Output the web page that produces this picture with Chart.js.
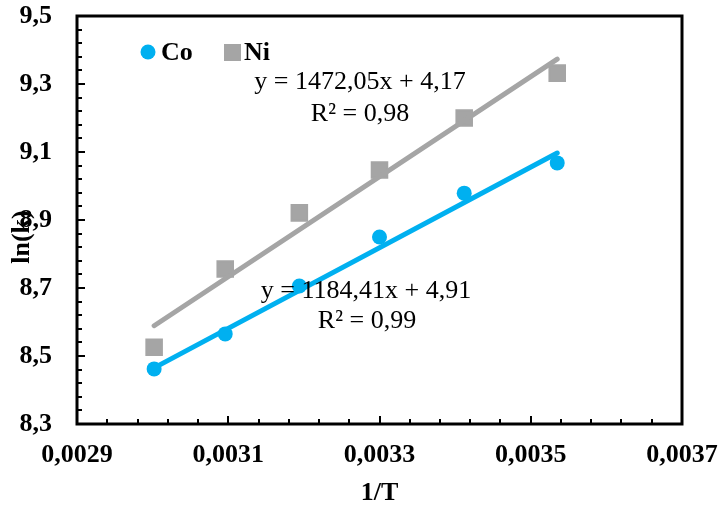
<!DOCTYPE html>
<html><head><meta charset="utf-8">
<script src="https://cdn.jsdelivr.net/npm/chart.js@4/dist/chart.umd.min.js"></script>
<style>html,body{margin:0;padding:0;background:#fff}#wrap{width:720px;height:508px;position:relative}</style>
</head><body><div id="wrap"><canvas id="c" width="720" height="508"></canvas></div>
<script>
// ---- data ----
const invT = [0.003002, 0.003096, 0.003194, 0.003300, 0.003412, 0.003535];
const lnkCo = [8.462, 8.565, 8.706, 8.850, 8.979, 9.068];
const lnkNi = [8.526, 8.756, 8.921, 9.047, 9.200, 9.332];
const trendX = [0.003002, 0.003535];
const trendCo = [8.465, 9.097];
const trendNi = [8.589, 9.373];
const seriesNames = ['Co', 'Ni'];
const xTicks = [0.0029, 0.0031, 0.0033, 0.0035, 0.0037];
const xTickLabels = ['0,0029', '0,0031', '0,0033', '0,0035', '0,0037'];
const yTicks = [8.3, 8.5, 8.7, 8.9, 9.1, 9.3, 9.5];
const yTickLabels = ['8,3', '8,5', '8,7', '8,9', '9,1', '9,3', '9,5'];
const eqCo = ['y = 1184,41x + 4,91', 'R\u00B2 = 0,99'];
const eqNi = ['y = 1472,05x + 4,17', 'R\u00B2 = 0,98'];
const xTitle = '1/T';
const yTitle = 'ln(k)';
const xMinorStep = 0.00004, yMinorStep = 0.04;

const COL_CO = '#00B0F0', COL_NI = '#A5A5A5';
const SERIF = "'Liberation Serif','Times New Roman',serif";
Chart.defaults.font.family = SERIF;

const pts = (xs, ys) => xs.map((x, i) => ({x: x, y: ys[i]}));

const decor = {
  id: 'decor',
  afterDatasetsDraw(chart) {
    const c = chart.ctx, a = chart.chartArea;
    const xs = chart.scales.x, ys = chart.scales.y;
    c.save();
    // frame
    c.strokeStyle = '#000'; c.lineWidth = 3; c.lineJoin = 'miter';
    c.strokeRect(a.left, a.top, a.right - a.left, a.bottom - a.top);
    // inward ticks
    c.lineWidth = 2;
    c.beginPath();
    const nx = Math.round((xs.max - xs.min) / xMinorStep);
    for (let i = 1; i < nx; i++) {
      const v = xs.min + i * xMinorStep;
      const px = Math.round(xs.getPixelForValue(v));
      const major = i % 5 === 0;
      c.moveTo(px, a.bottom); c.lineTo(px, a.bottom - (major ? 8 : 5));
    }
    const ny = Math.round((ys.max - ys.min) / yMinorStep);
    for (let i = 1; i < ny; i++) {
      const v = ys.min + i * yMinorStep;
      const py = Math.round(ys.getPixelForValue(v));
      const major = i % 5 === 0;
      c.moveTo(a.left, py); c.lineTo(a.left + (major ? 8 : 5), py);
    }
    c.stroke();
    // legend
    c.fillStyle = COL_CO;
    c.beginPath(); c.arc(148, 52, 7.5, 0, Math.PI * 2); c.fill();
    c.fillStyle = COL_NI;
    c.fillRect(224, 44, 17, 17);
    c.fillStyle = '#000';
    c.font = 'bold 26px ' + SERIF;
    c.textAlign = 'left'; c.textBaseline = 'alphabetic';
    c.fillText(seriesNames[0], 161, 60);
    c.fillText(seriesNames[1], 244, 60);
    // equations
    c.font = '26px ' + SERIF;
    c.textAlign = 'center';
    c.fillText(eqNi[0], 360, 89);
    c.fillText(eqNi[1], 360, 121);
    c.fillText(eqCo[0], 366, 298);
    c.fillText(eqCo[1], 367, 328);
    // axis titles
    c.font = 'bold 26px ' + SERIF;
    c.fillText(xTitle, (a.left + a.right) / 2, 500);
    c.translate(29, 237);
    c.rotate(-Math.PI / 2);
    c.textAlign = 'center';
    c.fillText(yTitle, 0, 0);
    c.restore();
  }
};

new Chart(document.getElementById('c'), {
  type: 'scatter',
  data: {
    datasets: [
      {label: seriesNames[0] + ' trend', data: pts(trendX, trendCo), showLine: true, borderColor: COL_CO,
       borderWidth: 5, pointRadius: 0, borderCapStyle: 'round', order: 0},
      {label: seriesNames[1] + ' trend', data: pts(trendX, trendNi), showLine: true, borderColor: COL_NI,
       borderWidth: 5, pointRadius: 0, borderCapStyle: 'round', order: 0},
      {label: seriesNames[0], data: pts(invT, lnkCo), pointStyle: 'circle', pointRadius: 7.5,
       backgroundColor: COL_CO, borderColor: COL_CO, borderWidth: 0, order: 1},
      {label: seriesNames[1], data: pts(invT, lnkNi), pointStyle: 'rect', pointRadius: 11,
       backgroundColor: COL_NI, borderColor: COL_NI, borderWidth: 2, order: 1}
    ]
  },
  options: {
    responsive: false, animation: false, devicePixelRatio: 1,
    layout: {padding: {top: 16, right: 38, left: 0, bottom: 0}},
    plugins: {legend: {display: false}, tooltip: {enabled: false}},
    scales: {
      x: {
        type: 'linear', min: 0.0029, max: 0.0037,
        afterBuildTicks: s => { s.ticks = xTicks.map(v => ({value: v})); },
        afterFit: s => { s.height = 84; s.paddingLeft = 0; s.paddingRight = 0; },
        grid: {display: false, drawTicks: false}, border: {display: false},
        ticks: {
          color: '#000', font: {size: 26, weight: 'bold'}, maxRotation: 0, autoSkip: false, padding: 16,
          callback: (v, i) => xTickLabels[i]
        }
      },
      y: {
        type: 'linear', min: 8.3, max: 9.5,
        afterBuildTicks: s => { s.ticks = yTicks.map(v => ({value: v})); },
        afterFit: s => { s.width = 77; s.paddingTop = 0; s.paddingBottom = 0; },
        grid: {display: false, drawTicks: false}, border: {display: false},
        ticks: {
          color: '#000', font: {size: 26, weight: 'bold'}, autoSkip: false, padding: 25,
          callback: (v, i) => yTickLabels[i]
        }
      }
    }
  },
  plugins: [decor]
});
</script>
</body></html>
